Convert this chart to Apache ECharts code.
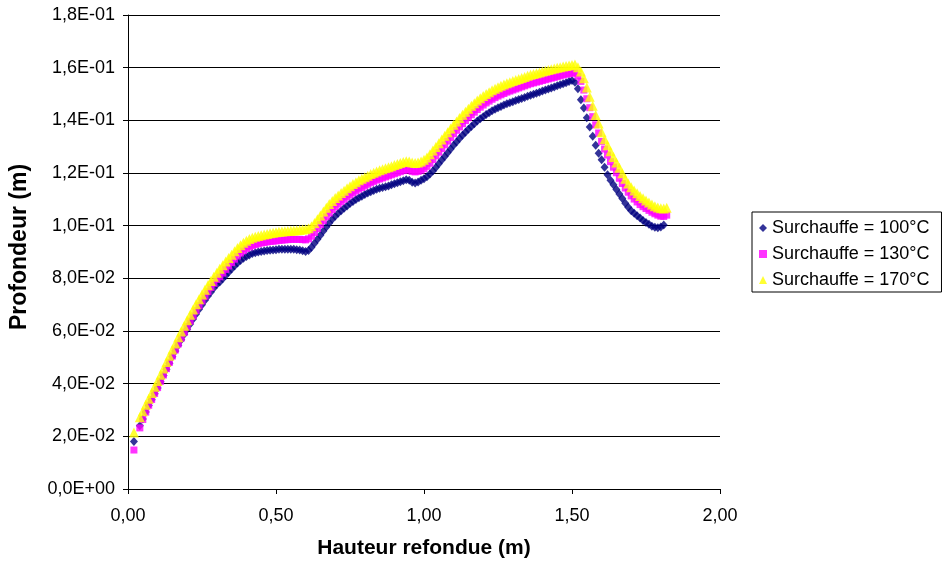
<!DOCTYPE html>
<html>
<head>
<meta charset="utf-8">
<script src="https://cdn.jsdelivr.net/npm/echarts@6/dist/echarts.min.js"></script>
<style>
html,body{margin:0;padding:0;background:#fff;}
#c{width:943px;height:567px;}
</style>
</head>
<body>
<div id="c"></div>
<script>
// Hauteur refondue (m)
const hauteur = [0.02,0.04,0.05,0.06,0.07,0.08,0.09,0.10,0.11,0.12,0.13,0.14,0.15,0.16,0.17,0.18,0.19,0.20,
0.21,0.22,0.23,0.24,0.25,0.26,0.27,0.28,0.29,0.30,0.31,0.32,0.33,0.34,0.35,0.36,0.37,0.38,0.39,0.40,
0.41,0.42,0.43,0.44,0.45,0.46,0.47,0.48,0.49,0.50,0.51,0.52,0.53,0.54,0.55,0.56,0.57,0.58,0.59,0.60,
0.61,0.62,0.63,0.64,0.65,0.66,0.67,0.68,0.69,0.70,0.71,0.72,0.73,0.74,0.75,0.76,0.77,0.78,0.79,0.80,
0.81,0.82,0.83,0.84,0.85,0.86,0.87,0.88,0.89,0.90,0.91,0.92,0.93,0.94,0.95,0.96,0.97,0.98,0.99,1.00,
1.01,1.02,1.03,1.04,1.05,1.06,1.07,1.08,1.09,1.10,1.11,1.12,1.13,1.14,1.15,1.16,1.17,1.18,1.19,1.20,
1.21,1.22,1.23,1.24,1.25,1.26,1.27,1.28,1.29,1.30,1.31,1.32,1.33,1.34,1.35,1.36,1.37,1.38,1.39,1.40,
1.41,1.42,1.43,1.44,1.45,1.46,1.47,1.48,1.49,1.50,1.51,1.52,1.53,1.54,1.55,1.56,1.57,1.58,1.59,1.60,
1.61,1.62,1.63,1.64,1.65,1.66,1.67,1.68,1.69,1.70,1.71,1.72,1.73,1.74,1.75,1.76,1.77,1.78,1.79,1.80,
1.81,1.82];

// Surchauffe = 100°C
const prof100 = [0.0180,0.0240,0.0266,0.0292,0.0317,0.0339,0.0362,0.0384,0.0407,0.0431,0.0455,0.0478,0.0502,0.0524,0.0546,0.0567,0.0588,0.0607,
0.0627,0.0646,0.0665,0.0683,0.0700,0.0717,0.0733,0.0748,0.0763,0.0777,0.0786,0.0798,0.0811,0.0823,0.0835,0.0847,0.0858,0.0868,0.0876,0.0883,
0.0889,0.0894,0.0897,0.0900,0.0902,0.0904,0.0906,0.0907,0.0908,0.0909,0.0910,0.0910,0.0910,0.0910,0.0910,0.0910,0.0909,0.0908,0.0905,0.0902,
0.0906,0.0918,0.0933,0.0948,0.0964,0.0980,0.0995,0.1010,0.1024,0.1036,0.1047,0.1057,0.1066,0.1075,0.1084,0.1092,0.1099,0.1106,0.1112,0.1118,
0.1124,0.1129,0.1134,0.1138,0.1142,0.1145,0.1148,0.1151,0.1155,0.1159,0.1163,0.1167,0.1171,0.1174,0.1172,0.1165,0.1162,0.1166,0.1172,0.1178,
0.1186,0.1196,0.1208,0.1221,0.1235,0.1249,0.1263,0.1277,0.1291,0.1305,0.1318,0.1331,0.1343,0.1355,0.1366,0.1377,0.1387,0.1397,0.1406,0.1414,
0.1422,0.1429,0.1436,0.1442,0.1448,0.1453,0.1458,0.1463,0.1467,0.1471,0.1475,0.1479,0.1483,0.1487,0.1491,0.1495,0.1499,0.1503,0.1507,0.1511,
0.1515,0.1519,0.1523,0.1527,0.1531,0.1535,0.1539,0.1543,0.1547,0.1551,0.1545,0.1520,0.1478,0.1447,0.1410,0.1375,0.1340,0.1305,0.1275,0.1250,
0.1222,0.1193,0.1172,0.1155,0.1137,0.1120,0.1103,0.1085,0.1070,0.1057,0.1047,0.1038,0.1029,0.1020,0.1012,0.1005,0.0998,0.0994,0.0992,0.0995,
0.1003];

// Surchauffe = 130°C
const prof130 = [0.0148,0.0232,0.0264,0.0292,0.0318,0.0340,0.0363,0.0385,0.0409,0.0433,0.0457,0.0481,0.0505,0.0528,0.0551,0.0573,0.0595,0.0616,
0.0637,0.0657,0.0677,0.0696,0.0714,0.0732,0.0749,0.0765,0.0781,0.0796,0.0806,0.0820,0.0834,0.0847,0.0860,0.0873,0.0885,0.0896,0.0905,0.0913,
0.0919,0.0924,0.0928,0.0931,0.0934,0.0936,0.0938,0.0940,0.0941,0.0942,0.0944,0.0945,0.0946,0.0947,0.0948,0.0948,0.0948,0.0948,0.0947,0.0946,
0.0950,0.0960,0.0974,0.0989,0.1004,0.1019,0.1034,0.1048,0.1061,0.1072,0.1082,0.1091,0.1100,0.1109,0.1117,0.1125,0.1132,0.1139,0.1145,0.1151,
0.1157,0.1163,0.1168,0.1173,0.1177,0.1181,0.1185,0.1189,0.1193,0.1197,0.1201,0.1205,0.1209,0.1212,0.1211,0.1206,0.1204,0.1206,0.1210,0.1216,
0.1225,0.1237,0.1251,0.1265,0.1279,0.1293,0.1307,0.1321,0.1335,0.1349,0.1362,0.1375,0.1387,0.1399,0.1410,0.1421,0.1431,0.1441,0.1450,0.1458,
0.1466,0.1473,0.1480,0.1486,0.1492,0.1497,0.1502,0.1507,0.1511,0.1515,0.1519,0.1523,0.1527,0.1531,0.1535,0.1539,0.1542,0.1545,0.1548,0.1551,
0.1554,0.1557,0.1560,0.1563,0.1566,0.1569,0.1572,0.1575,0.1577,0.1579,0.1580,0.1568,0.1548,0.1515,0.1482,0.1448,0.1414,0.1383,0.1352,0.1320,
0.1291,0.1268,0.1243,0.1222,0.1201,0.1180,0.1160,0.1143,0.1127,0.1113,0.1101,0.1090,0.1080,0.1072,0.1065,0.1058,0.1051,0.1045,0.1040,0.1036,
0.1035,0.1040];

// Surchauffe = 170°C
const prof170 = [0.0215,0.0272,0.0295,0.0320,0.0343,0.0365,0.0388,0.0410,0.0434,0.0458,0.0482,0.0506,0.0530,0.0553,0.0576,0.0598,0.0620,0.0641,
0.0662,0.0682,0.0702,0.0721,0.0739,0.0757,0.0774,0.0790,0.0806,0.0821,0.0836,0.0850,0.0864,0.0877,0.0890,0.0903,0.0915,0.0926,0.0935,0.0943,
0.0949,0.0954,0.0958,0.0961,0.0964,0.0966,0.0968,0.0971,0.0973,0.0975,0.0977,0.0978,0.0979,0.0980,0.0981,0.0982,0.0983,0.0984,0.0985,0.0986,
0.0990,0.0998,0.1010,0.1024,0.1039,0.1054,0.1068,0.1082,0.1094,0.1105,0.1115,0.1124,0.1133,0.1142,0.1150,0.1158,0.1165,0.1172,0.1178,0.1184,
0.1190,0.1196,0.1201,0.1206,0.1210,0.1214,0.1218,0.1222,0.1226,0.1230,0.1234,0.1238,0.1242,0.1245,0.1244,0.1240,0.1238,0.1240,0.1244,0.1250,
0.1259,0.1271,0.1285,0.1299,0.1313,0.1327,0.1341,0.1355,0.1369,0.1383,0.1396,0.1409,0.1421,0.1433,0.1444,0.1455,0.1465,0.1475,0.1484,0.1492,
0.1500,0.1507,0.1514,0.1520,0.1526,0.1531,0.1536,0.1541,0.1545,0.1549,0.1553,0.1557,0.1561,0.1565,0.1569,0.1573,0.1576,0.1579,0.1582,0.1585,
0.1588,0.1591,0.1594,0.1597,0.1600,0.1602,0.1604,0.1606,0.1608,0.1610,0.1612,0.1602,0.1585,0.1560,0.1525,0.1490,0.1455,0.1420,0.1388,0.1355,
0.1328,0.1305,0.1283,0.1261,0.1240,0.1220,0.1199,0.1178,0.1160,0.1146,0.1134,0.1123,0.1113,0.1104,0.1096,0.1088,0.1080,0.1074,0.1069,0.1066,
0.1065,0.1068];

const seriesNames = ['Surchauffe = 100°C', 'Surchauffe = 130°C', 'Surchauffe = 170°C'];

function pairs(xs, ys) {
  const out = [];
  for (let i = 0; i < ys.length; i++) out.push([xs[i], ys[i]]);
  return out;
}
function fmtX(v) { return v.toFixed(2).replace('.', ','); }
function fmtY(v) {
  if (Math.abs(v) < 1e-12) return '0,0E+00';
  let e = Math.floor(Math.log10(v) + 1e-9);
  let ms = (v / Math.pow(10, e)).toFixed(1);
  if (parseFloat(ms) >= 10) { e += 1; ms = (v / Math.pow(10, e)).toFixed(1); }
  const sign = e < 0 ? '-' : '+';
  const ea = Math.abs(e);
  return ms.replace('.', ',') + 'E' + sign + (ea < 10 ? '0' + ea : '' + ea);
}

const font = 'Liberation Sans, Arial, sans-serif';
const chart = echarts.init(document.getElementById('c'), null, {renderer: 'canvas'});
chart.setOption({
  backgroundColor: '#fff',
  animation: false,
  textStyle: {fontFamily: font},
  grid: {left: 126, right: 223, top: 15, bottom: 78, containLabel: false},
  legend: {
    orient: 'vertical',
    left: 752, top: 212,
    padding: [7, 12, 3, 7],
    itemGap: 8,
    itemWidth: 8, itemHeight: 8,
    borderColor: '#000', borderWidth: 1,
    backgroundColor: '#fff',
    textStyle: {fontFamily: font, fontSize: 18, color: '#000'},
    data: [
      {name: seriesNames[0], icon: 'diamond'},
      {name: seriesNames[1], icon: 'rect'},
      {name: seriesNames[2], icon: 'triangle'}
    ]
  },
  xAxis: {
    type: 'value', min: 0, max: 2, interval: 0.5,
    name: 'Hauteur refondue (m)', nameLocation: 'middle', nameGap: 49,
    nameTextStyle: {fontFamily: font, fontSize: 21, fontWeight: 'bold', color: '#000'},
    axisLine: {show: true, onZero: false, lineStyle: {color: '#000', width: 1}},
    axisTick: {show: true, inside: false, length: 5, lineStyle: {color: '#000'}},
    axisLabel: {fontFamily: font, fontSize: 18, color: '#000', margin: 18, formatter: fmtX},
    splitLine: {show: false}
  },
  yAxis: {
    type: 'value', min: 0, max: 0.18, interval: 0.02,
    name: 'Profondeur (m)', nameLocation: 'middle', nameGap: 97, nameRotate: 90,
    nameTextStyle: {fontFamily: font, fontSize: 23, fontWeight: 'bold', color: '#000', padding: [0, 0, 0, 10]},
    axisLine: {show: true, onZero: false, lineStyle: {color: '#000', width: 1}},
    axisTick: {show: true, inside: false, length: 5, lineStyle: {color: '#000'}},
    axisLabel: {fontFamily: font, fontSize: 18, color: '#000', margin: 13, formatter: fmtY},
    splitLine: {show: true, lineStyle: {color: '#000', width: 1}}
  },
  series: [
    {name: seriesNames[0], type: 'scatter', symbol: 'diamond', symbolSize: [8, 9],
     itemStyle: {color: '#000080'}, data: pairs(hauteur, prof100)},
    {name: seriesNames[1], type: 'scatter', symbol: 'rect', symbolSize: 7,
     itemStyle: {color: '#FF00FF'}, data: pairs(hauteur, prof130)},
    {name: seriesNames[2], type: 'scatter', symbol: 'triangle', symbolSize: 10,
     itemStyle: {color: '#FFFF00'}, data: pairs(hauteur, prof170)}
  ]
});
</script>
</body>
</html>
